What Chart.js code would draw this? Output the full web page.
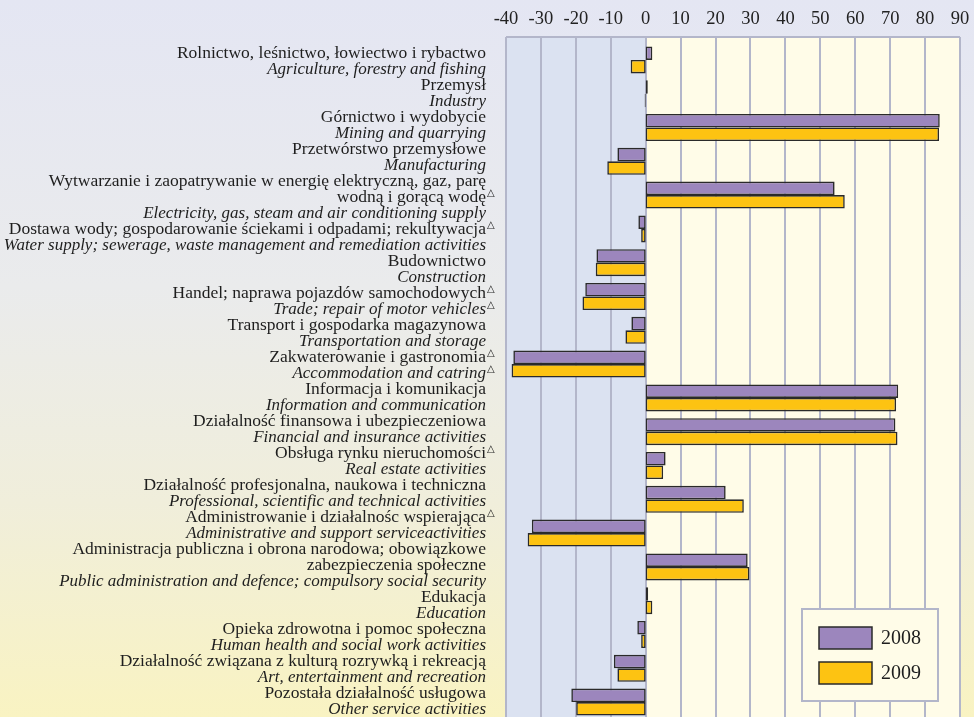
<!DOCTYPE html>
<html>
<head>
<meta charset="utf-8">
<script src="https://cdn.jsdelivr.net/npm/chart.js@4.4.1/dist/chart.umd.min.js"></script>
<style>
  html, body {
    margin: 0;
    padding: 0;
    width: 974px;
    height: 717px;
    overflow: hidden;
    background: linear-gradient(to bottom, #e4e6f3 0%, #eaebec 40%, #f0eedb 70%, #f9f3c2 100%);
  }
  canvas { display: block; }
</style>
</head>
<body>
<canvas id="chart" width="974" height="730"></canvas>
<script>
// Polish names (one or more lines), a trailing △ marks revised data
const labelsPl = [
    ['Rolnictwo, leśnictwo, łowiectwo i rybactwo'],
    ['Przemysł'],
    ['Górnictwo i wydobycie'],
    ['Przetwórstwo przemysłowe'],
    ['Wytwarzanie i zaopatrywanie w energię elektryczną, gaz, parę', 'wodną i gorącą wodę△'],
    ['Dostawa wody; gospodarowanie ściekami i odpadami; rekultywacja△'],
    ['Budownictwo'],
    ['Handel; naprawa pojazdów samochodowych△'],
    ['Transport i gospodarka magazynowa'],
    ['Zakwaterowanie i gastronomia△'],
    ['Informacja i komunikacja'],
    ['Działalność finansowa i ubezpieczeniowa'],
    ['Obsługa rynku nieruchomości△'],
    ['Działalność profesjonalna, naukowa i techniczna'],
    ['Administrowanie i działalnośc wspierająca△'],
    ['Administracja publiczna i obrona narodowa; obowiązkowe', 'zabezpieczenia społeczne'],
    ['Edukacja'],
    ['Opieka zdrowotna i pomoc społeczna'],
    ['Działalność związana z kulturą rozrywką i rekreacją'],
    ['Pozostała działalność usługowa']
];

const labelsEn = [
    'Agriculture, forestry and fishing',
    'Industry',
    'Mining and quarrying',
    'Manufacturing',
    'Electricity, gas, steam and air conditioning supply',
    'Water supply; sewerage, waste management and remediation activities',
    'Construction',
    'Trade; repair of motor vehicles△',
    'Transportation and storage',
    'Accommodation and catring△',
    'Information and communication',
    'Financial and insurance activities',
    'Real estate activities',
    'Professional, scientific and technical activities',
    'Administrative and support serviceactivities',
    'Public administration and defence; compulsory social security',
    'Education',
    'Human health and social work activities',
    'Art, entertainment and recreation',
    'Other service activities'
];

const seriesNames = ['2008', '2009'];
const values2008 = [1.9, 0.6, 84.2, -8.1, 54.1, -2.1, -14.1, -17.3, -4.1, -37.9, 72.3, 71.5, 5.7, 22.9, -32.6, 29.2, 0.7, -2.4, -9.1, -21.3];
const values2009 = [-4.3, -0.3, 84.0, -11.0, 57.0, -1.3, -14.3, -18.1, -5.8, -38.4, 71.7, 72.1, 5.0, 28.1, -33.8, 29.7, 1.9, -1.3, -8.1, -19.9];

const axisMin = -40;
const axisMax = 90;
const axisStep = 10;

const gridColor = '#b3b6ca';
const negFill = '#dbe2f1';
const posFill = '#fffce8';
const textColor = '#1e1e1e';
const serif = '"Liberation Serif", "Times New Roman", serif';

// background of the plot, vertical grid lines and border
const plotBackground = {
    id: 'plotBackground',
    beforeDatasetsDraw(chart) {
        const { ctx, chartArea, scales: { x } } = chart;
        const top = chartArea.top - 6;
        const bottom = chart.height;
        const left = x.getPixelForValue(axisMin);
        const right = x.getPixelForValue(axisMax);
        const zero = x.getPixelForValue(0);
        ctx.save();
        ctx.fillStyle = negFill;
        ctx.fillRect(left, top, zero - left, bottom - top);
        ctx.fillStyle = posFill;
        ctx.fillRect(zero, top, right - zero, bottom - top);
        ctx.strokeStyle = gridColor;
        ctx.lineWidth = 2;
        x.ticks.forEach(t => {
            const px = Math.round(x.getPixelForValue(t.value));
            ctx.beginPath();
            ctx.moveTo(px, top);
            ctx.lineTo(px, bottom);
            ctx.stroke();
        });
        ctx.beginPath();
        ctx.moveTo(left, top);
        ctx.lineTo(right, top);
        ctx.stroke();
        ctx.restore();
    }
};

// category labels on the left: Polish upright, English italic.
// They run as one text column starting at the first category.
function drawLine(ctx, text, x, y, italic) {
    const mark = text.endsWith('△');
    const body = mark ? text.slice(0, -1) : text;
    ctx.font = italic ? 'italic 17px ' + serif : '17.5px ' + serif;
    ctx.textAlign = 'right';
    ctx.textBaseline = 'middle';
    ctx.fillText(body, x, y);
    if (mark) {
        ctx.font = '10px "DejaVu Sans", sans-serif';
        ctx.textAlign = 'left';
        ctx.fillText('△', x + 1, y - 4);
    }
}

const categoryLabels = {
    id: 'categoryLabels',
    afterDraw(chart) {
        const { ctx, scales: { y } } = chart;
        const lineGap = 16;
        const textRight = 486;
        let ly = y.getPixelForValue(0) - lineGap / 2 + 2;
        ctx.save();
        ctx.fillStyle = textColor;
        labelsPl.forEach((pl, i) => {
            pl.forEach(t => {
                drawLine(ctx, t, textRight, ly, false);
                ly += lineGap;
            });
            drawLine(ctx, labelsEn[i], textRight, ly, true);
            ly += lineGap;
        });
        ctx.restore();
    }
};

// legend box in the lower right of the plot
const boxLegend = {
    id: 'boxLegend',
    afterDraw(chart) {
        const { ctx } = chart;
        const bx = 802, by = 609, bw = 136, bh = 92;
        ctx.save();
        ctx.fillStyle = posFill;
        ctx.fillRect(bx, by, bw, bh);
        ctx.strokeStyle = gridColor;
        ctx.lineWidth = 2;
        ctx.strokeRect(bx, by, bw, bh);
        chart.data.datasets.forEach((ds, i) => {
            const sy = by + 18 + i * 35;
            ctx.fillStyle = ds.backgroundColor;
            ctx.fillRect(bx + 17, sy, 53, 22);
            ctx.strokeStyle = '#2a2a2a';
            ctx.lineWidth = 1.5;
            ctx.strokeRect(bx + 17, sy, 53, 22);
            ctx.fillStyle = textColor;
            ctx.font = '20px ' + serif;
            ctx.textAlign = 'left';
            ctx.textBaseline = 'middle';
            ctx.fillText(ds.label, bx + 79, sy + 12);
        });
        ctx.restore();
    }
};

new Chart(document.getElementById('chart'), {
    type: 'bar',
    data: {
        labels: labelsPl.map(l => l.join(' ')),
        datasets: [
            {
                label: seriesNames[0],
                data: values2008,
                backgroundColor: '#9c86bd',
                borderColor: '#2a2a2a',
                borderWidth: 1.6,
                borderSkipped: false
            },
            {
                label: seriesNames[1],
                data: values2009,
                backgroundColor: '#fdc312',
                borderColor: '#2a2a2a',
                borderWidth: 1.6,
                borderSkipped: false
            }
        ]
    },
    options: {
        indexAxis: 'y',
        responsive: false,
        animation: false,
        devicePixelRatio: 1,
        layout: { padding: { left: 506, right: 14, top: 0, bottom: 11 } },
        datasets: { bar: { categoryPercentage: 0.8, barPercentage: 1.0 } },
        plugins: {
            legend: { display: false },
            tooltip: { enabled: false }
        },
        scales: {
            x: {
                position: 'top',
                min: axisMin,
                max: axisMax,
                ticks: {
                    stepSize: axisStep,
                    color: '#222',
                    padding: 13,
                    font: { family: serif, size: 18.5 }
                },
                grid: { display: false, drawTicks: false },
                border: { display: false },
                afterFit(scale) {
                    scale.height = 43;
                    scale.paddingLeft = 0;
                    scale.paddingRight = 0;
                }
            },
            y: {
                display: false
            }
        }
    },
    plugins: [plotBackground, categoryLabels, boxLegend]
});
</script>
</body>
</html>
